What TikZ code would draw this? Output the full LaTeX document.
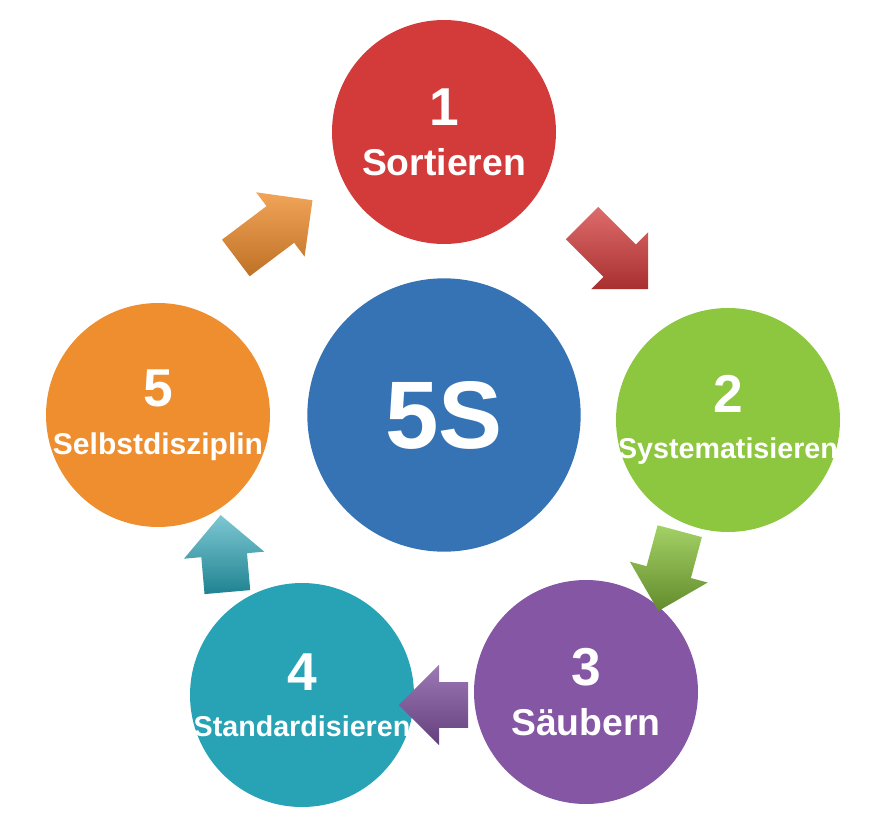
\documentclass[tikz,border=0pt]{standalone}
\usepackage{fontspec}
\setmainfont{Liberation Sans}
\usetikzlibrary{shapes.arrows}
\definecolor{cred}{HTML}{D33B3B}
\definecolor{cgreen}{HTML}{8DC63F}
\definecolor{cpurple}{HTML}{8456A4}
\definecolor{cteal}{HTML}{27A3B5}
\definecolor{corange}{HTML}{EE8E2E}
\definecolor{cblue}{HTML}{3573B5}
\tikzset{
  disc/.style={circle, minimum size=168pt, inner sep=0pt},
  lbl/.style={text=white, font=\bfseries, align=center, inner sep=0pt},
  blockarrow/.style={single arrow, minimum height=70pt, inner xsep=0pt, inner ysep=17pt, single arrow head extend=13pt, draw=none},
}
\begin{document}
\begin{tikzpicture}[x=0.75pt,y=-0.75pt]
\useasboundingbox (0,0) rectangle (881,831);
\node[disc, fill=cblue, minimum size=205pt] (c) at (444,415) {};
\node[lbl] (tc) at (c) {\fontsize{72}{76}\selectfont 5S};
\node[disc, fill=cred] (n1) at (444,132) {};
\node[lbl] (t1) at (n1) {\fontsize{40}{44}\selectfont 1\\[16pt]\fontsize{28}{30}\selectfont Sortieren};
\node[disc, fill=cgreen] (n2) at (728,420) {};
\node[lbl] (t2) at (n2) {\fontsize{40}{44}\selectfont 2\\[18pt]\fontsize{21.5}{24}\selectfont Systematisieren};
\node[disc, fill=cpurple] (n3) at (586,692) {};
\node[lbl] (t3) at (n3) {\fontsize{40}{44}\selectfont 3\\[16pt]\fontsize{28}{30}\selectfont Säubern};
\node[disc, fill=cteal] (n4) at (302,695) {};
\node[lbl] (t4) at (n4) {\fontsize{40}{44}\selectfont 4\\[18pt]\fontsize{21.5}{24}\selectfont Standardisieren};
\node[disc, fill=corange] (n5) at (158,415) {};
\node[lbl] (t5) at (n5) {\fontsize{40}{44}\selectfont 5\\[18pt]\fontsize{22.5}{24}\selectfont Selbstdisziplin};
\node[blockarrow, rotate=-45, top color=cred!75, bottom color=cred!80!black] (a12) at (607,248) {};
\node[blockarrow, rotate=-105, top color=cgreen!80!white, bottom color=cgreen!70!black, minimum height=62pt] (a23) at (672,560) {};
\node[blockarrow, rotate=180, top color=cpurple!80!white, bottom color=cpurple!75!black, minimum height=52pt] (a34) at (445,705) {};
\node[blockarrow, rotate=95, top color=cteal!60!white, bottom color=cteal!80!black, minimum height=58pt] (a45) at (225,565) {};
\node[blockarrow, rotate=37, top color=corange!80!white, bottom color=corange!80!black, minimum height=72pt] (a51) at (265,236) {};
\end{tikzpicture}
\end{document}
